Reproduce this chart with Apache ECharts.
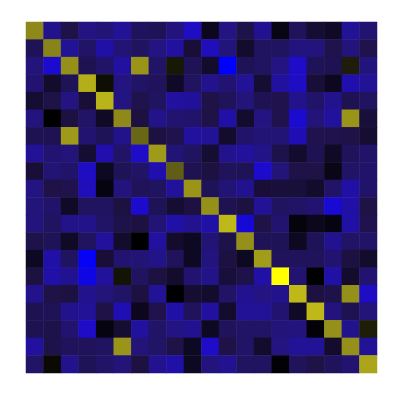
<!DOCTYPE html>
<html>
<head>
<meta charset="utf-8">
<script src="https://cdn.jsdelivr.net/npm/echarts@6/dist/echarts.min.js"></script>
<style>html,body{margin:0;padding:0;background:#fff;}#chart{width:400px;height:400px;}</style>
</head>
<body>
<div id="chart"></div>
<script>
const colLabels = ['0','1','2','3','4','5','6','7','8','9','10','11','12','13','14','15','16','17','18','19'];
const rowLabels = ['0','1','2','3','4','5','6','7','8','9','10','11','12','13','14','15','16','17','18','19'];

const row0  = [0.55,-0.53,-0.25,-0.5,-0.45,-0.57,-0.35,-0.32,-0.48,-0.73,-0.1,-0.5,-0.27,-0.55,-0.07,-0.33,-0.18,-0.14,-0.57,-0.42];
const row1  = [-0.32,0.53,-0.57,-0.38,-0.63,-0.44,-0.36,-0.5,-0.6,-0.2,-0.7,-0.46,-0.16,-0.36,-0.36,-0.48,-0.48,-0.28,-0.47,-0.28];
const row2  = [-0.46,-0.78,0.58,-0.3,-0.38,-0.6,0.6,-0.38,0.1,-0.32,-0.16,-1.0,-0.32,-0.36,-0.5,-0.75,-0.32,-0.3,0.12,-0.48];
const row3  = [-0.42,-0.16,-0.32,0.71,0.06,-0.5,-0.38,-0.34,-0.14,-0.36,-0.54,-0.42,-0.57,-0.18,-0.6,-0.73,-0.2,-0.11,-0.65,-0.57];
const row4  = [-0.18,-0.25,-0.5,-0.2,0.73,-0.5,-0.28,-0.36,-0.6,-0.58,-0.25,-0.34,-0.46,-0.3,-0.28,-0.54,-0.4,-0.54,-0.3,-0.36];
const row5  = [-0.48,0.0,-0.23,-0.38,-0.14,0.55,-0.23,-0.52,-0.42,-0.4,-0.25,-0.63,-0.16,-0.5,-0.28,-0.78,-0.46,-0.59,0.6,-0.21];
const row6  = [-0.3,-0.3,0.62,-0.42,-0.32,-0.54,0.41,-0.23,-0.28,-0.6,-0.57,-0.16,-0.4,-0.44,-0.44,-0.68,-0.28,-0.28,-0.25,-0.18];
const row7  = [-0.57,-0.42,-0.46,-0.18,-0.65,-0.38,-0.75,0.62,-0.44,-0.36,-0.18,-0.54,-0.59,-0.52,-0.27,-0.16,-0.3,-0.14,-0.34,-0.4];
const row8  = [-0.2,-0.44,-0.4,-0.73,-0.12,-0.32,-0.38,-0.65,0.38,-0.3,-0.23,-0.34,-0.32,-0.77,-0.46,-0.25,-0.25,-0.08,-0.38,-0.4];
const row9  = [-0.5,-0.25,-0.28,-0.7,-0.06,-0.48,-0.34,-0.36,-0.59,0.6,-0.32,-0.44,-0.55,-0.2,-0.21,-0.21,-0.16,-0.38,-0.63,-0.4];
const row10 = [-0.46,-0.4,-0.14,-0.36,-0.36,-0.23,-0.77,-0.32,-0.18,-0.23,0.58,-0.3,-0.23,-0.57,-0.36,-0.38,-0.42,-0.8,-0.63,-0.25];
const row11 = [-0.48,-0.36,-0.52,-0.52,-0.38,-0.27,-0.23,-0.44,-0.63,-0.55,-0.63,0.75,-0.82,-0.25,-0.42,-0.04,-0.1,-0.06,-0.63,-0.28];
const row12 = [-0.27,-0.32,-0.14,-0.36,-0.59,-0.16,0.0,-0.6,-0.16,-0.12,-0.44,-0.27,0.58,-0.32,-0.32,-0.12,-0.32,-0.55,-0.38,-0.38];
const row13 = [-0.12,-0.63,-0.36,-0.96,-0.2,-0.42,-0.44,-0.52,-0.34,-0.12,-0.48,-0.23,-0.12,0.63,-0.34,-0.34,-0.34,-0.42,-0.23,-0.16];
const row14 = [-0.23,-0.63,-0.55,-0.88,-0.59,0.08,-0.36,-0.23,-0.16,-0.42,-0.52,-0.21,-0.27,-0.63,1.0,-0.42,0.0,-0.63,-0.16,-0.42];
const row15 = [-0.54,-0.25,-0.23,-0.54,-0.46,-0.38,-0.23,-0.57,0.0,-0.18,-0.16,-0.38,-0.55,-0.5,-0.54,0.75,-0.23,-0.27,0.58,-0.73];
const row16 = [-0.3,-0.32,-0.54,-0.57,-0.25,-0.68,-0.1,-0.28,-0.63,-0.34,-0.6,-0.16,-0.57,-0.57,-0.42,-0.14,0.75,-0.48,-0.3,-0.46];
const row17 = [-0.3,-0.27,-0.42,-0.75,-0.06,-0.18,-0.6,-0.38,-0.5,-0.55,-0.12,-0.34,-0.38,-0.38,-0.46,-0.48,-0.03,0.58,-0.54,0.12];
const row18 = [-0.6,-0.27,-0.34,-0.34,-0.36,0.6,-0.46,-0.38,-0.25,-0.12,-0.75,-0.25,-0.38,-0.16,-0.5,-0.57,-0.57,-0.16,0.58,-0.57];
const row19 = [-0.38,0.04,-0.54,-0.32,-0.38,-0.46,-0.23,-0.55,-0.63,-0.12,-0.48,-0.55,-0.36,-0.36,-0.02,-0.34,-0.25,-0.34,-0.42,0.67];

const matrix = [row0,row1,row2,row3,row4,row5,row6,row7,row8,row9,row10,row11,row12,row13,row14,row15,row16,row17,row18,row19];

const data = [];
matrix.forEach((row, r) => row.forEach((v, c) => data.push([c, r, v])));

const chart = echarts.init(document.getElementById('chart'), null, {renderer: 'canvas'});
chart.setOption({
  animation: false,
  backgroundColor: '#ffffff',
  grid: {left: 26, top: 22, width: 351, height: 351, containLabel: false},
  xAxis: {type: 'category', data: colLabels, show: false},
  yAxis: {type: 'category', data: rowLabels, inverse: true, show: false},
  visualMap: {
    show: false, min: -1, max: 1, dimension: 2,
    inRange: {color: ['#0000ff','#1e0cc8','#231482','#1e1246','#000000','#3c3c12','#827d19','#beb919','#ffff00']}
  },
  series: [{
    type: 'heatmap',
    data: data,
    progressive: 0,
    itemStyle: {borderWidth: 0},
    emphasis: {disabled: true}
  }]
});
</script>
</body>
</html>
